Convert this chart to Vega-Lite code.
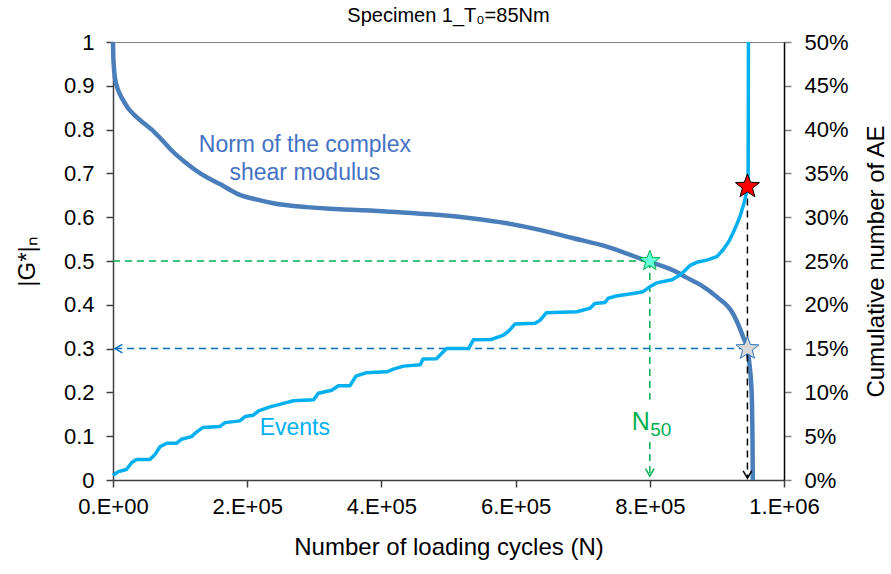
{
  "$schema": "https://vega.github.io/schema/vega-lite/v6.json",
  "width": 671,
  "height": 438,
  "autosize": {"type": "none"},
  "padding": {"left": 113, "top": 42, "right": 107, "bottom": 94},
  "background": "white",
  "title": {
    "text": "Specimen 1_T₀=85Nm",
    "font": "Liberation Sans",
    "fontSize": 20,
    "fontWeight": "normal",
    "color": "#000000",
    "anchor": "middle",
    "offset": 5
  },
  "datasets": {
    "modulus": [
      {"N": 0, "G": 1.0}, {"N": 300, "G": 0.975}, {"N": 1000, "G": 0.95}, {"N": 2000, "G": 0.93},
      {"N": 3500, "G": 0.912}, {"N": 5500, "G": 0.9}, {"N": 9000, "G": 0.885}, {"N": 14000, "G": 0.87},
      {"N": 22000, "G": 0.85}, {"N": 32000, "G": 0.833}, {"N": 44000, "G": 0.817}, {"N": 57700, "G": 0.8},
      {"N": 72000, "G": 0.778}, {"N": 89000, "G": 0.75}, {"N": 108000, "G": 0.725}, {"N": 130000, "G": 0.7},
      {"N": 160000, "G": 0.675}, {"N": 189000, "G": 0.651}, {"N": 215000, "G": 0.64}, {"N": 239000, "G": 0.632},
      {"N": 289000, "G": 0.623}, {"N": 338000, "G": 0.618}, {"N": 388000, "G": 0.615}, {"N": 438000, "G": 0.61},
      {"N": 487000, "G": 0.605}, {"N": 537000, "G": 0.597}, {"N": 587000, "G": 0.586}, {"N": 636000, "G": 0.571},
      {"N": 686000, "G": 0.552}, {"N": 736000, "G": 0.533}, {"N": 785000, "G": 0.506}, {"N": 800000, "G": 0.498},
      {"N": 840000, "G": 0.475}, {"N": 855000, "G": 0.462}, {"N": 875000, "G": 0.446}, {"N": 900000, "G": 0.418},
      {"N": 924000, "G": 0.38}, {"N": 939000, "G": 0.327}, {"N": 945000, "G": 0.3}, {"N": 949000, "G": 0.258},
      {"N": 952000, "G": 0.19}, {"N": 953000, "G": 0.1}, {"N": 953500, "G": 0.0}
    ],
    "events": [
      {"N": 0, "AE": 0.0055}, {"N": 8000, "AE": 0.0095}, {"N": 20000, "AE": 0.012}, {"N": 28000, "AE": 0.02},
      {"N": 35000, "AE": 0.0235}, {"N": 55000, "AE": 0.0235}, {"N": 63000, "AE": 0.0295}, {"N": 70000, "AE": 0.038},
      {"N": 80000, "AE": 0.042}, {"N": 95000, "AE": 0.042}, {"N": 102000, "AE": 0.0465}, {"N": 117000, "AE": 0.0495},
      {"N": 125000, "AE": 0.055}, {"N": 134000, "AE": 0.06}, {"N": 159000, "AE": 0.061}, {"N": 167000, "AE": 0.0655},
      {"N": 189000, "AE": 0.0675}, {"N": 197000, "AE": 0.0725}, {"N": 209000, "AE": 0.074}, {"N": 217000, "AE": 0.079},
      {"N": 234000, "AE": 0.0835}, {"N": 254000, "AE": 0.0875}, {"N": 269000, "AE": 0.0905}, {"N": 299000, "AE": 0.0915},
      {"N": 306000, "AE": 0.099}, {"N": 326000, "AE": 0.1025}, {"N": 336000, "AE": 0.1075}, {"N": 353000, "AE": 0.1075},
      {"N": 362000, "AE": 0.1185}, {"N": 378000, "AE": 0.1225}, {"N": 408000, "AE": 0.1235}, {"N": 418000, "AE": 0.1265},
      {"N": 433000, "AE": 0.13}, {"N": 458000, "AE": 0.1315}, {"N": 462000, "AE": 0.138}, {"N": 482000, "AE": 0.1385},
      {"N": 497000, "AE": 0.15}, {"N": 530000, "AE": 0.15}, {"N": 537000, "AE": 0.16}, {"N": 564000, "AE": 0.1605},
      {"N": 582000, "AE": 0.1655}, {"N": 589000, "AE": 0.1695}, {"N": 599000, "AE": 0.178}, {"N": 629000, "AE": 0.179},
      {"N": 636000, "AE": 0.182}, {"N": 646000, "AE": 0.191}, {"N": 691000, "AE": 0.192}, {"N": 711000, "AE": 0.196},
      {"N": 718000, "AE": 0.2015}, {"N": 733000, "AE": 0.2025}, {"N": 738000, "AE": 0.2075}, {"N": 750000, "AE": 0.21},
      {"N": 775000, "AE": 0.213}, {"N": 790000, "AE": 0.215}, {"N": 800000, "AE": 0.2205}, {"N": 810000, "AE": 0.225},
      {"N": 833000, "AE": 0.2285}, {"N": 845000, "AE": 0.234}, {"N": 850000, "AE": 0.2375}, {"N": 860000, "AE": 0.245},
      {"N": 870000, "AE": 0.2485}, {"N": 885000, "AE": 0.251}, {"N": 900000, "AE": 0.255}, {"N": 909000, "AE": 0.2625},
      {"N": 918000, "AE": 0.2725}, {"N": 924000, "AE": 0.282}, {"N": 930000, "AE": 0.2925}, {"N": 934000, "AE": 0.3},
      {"N": 940000, "AE": 0.315}, {"N": 944000, "AE": 0.3275}, {"N": 946500, "AE": 0.336}, {"N": 947000, "AE": 0.5}
    ]
  },
  "layer": [
    {
      "data": {"name": "modulus"},
      "mark": {"type": "line", "color": "#4A7EBB", "strokeWidth": 4.5, "strokeJoin": "round", "interpolate": "monotone"},
      "encoding": {
        "x": {
          "field": "N", "type": "quantitative",
          "scale": {"domain": [0, 1000000], "nice": false, "zero": false},
          "axis": {
            "title": "Number of loading cycles (N)",
            "values": [0, 200000, 400000, 600000, 800000, 1000000],
            "labelExpr": "datum.value == 0 ? '0.E+00' : (datum.value >= 1000000 ? '1.E+06' : format(datum.value / 100000, 'd') + '.E+05')",
            "labelFlush": false,
            "labelPadding": 9,
            "titlePadding": 18
          }
        },
        "y": {
          "field": "G", "type": "quantitative",
          "scale": {"domain": [0, 1], "nice": false},
          "axis": {
            "title": "|G*|ₙ",
            "orient": "left",
            "values": [0, 0.1, 0.2, 0.3, 0.4, 0.5, 0.6, 0.7, 0.8, 0.9, 1],
            "format": ".1~f",
            "labelFlush": false,
            "labelPadding": 12,
            "titlePadding": 24
          }
        }
      }
    },
    {
      "data": {"values": [{"N": 0, "N2": 800000, "G": 0.5}]},
      "mark": {"type": "rule", "color": "#00B050", "strokeWidth": 1.5, "strokeDash": [7, 5]},
      "encoding": {
        "x": {"field": "N", "type": "quantitative"},
        "x2": {"field": "N2"},
        "y": {"field": "G", "type": "quantitative", "scale": {"domain": [0, 1], "nice": false}, "axis": null}
      }
    },
    {
      "data": {"values": [{"N": 800000, "G": 0.5, "G2": 0.183}, {"N": 800000, "G": 0.087, "G2": 0.012}]},
      "mark": {"type": "rule", "color": "#00B050", "strokeWidth": 1.5, "strokeDash": [7, 5]},
      "encoding": {
        "x": {"field": "N", "type": "quantitative"},
        "y": {"field": "G", "type": "quantitative", "scale": {"domain": [0, 1], "nice": false}, "axis": null},
        "y2": {"field": "G2"}
      }
    },
    {
      "data": {"values": [{"N": 3000, "N2": 945500, "G": 0.3}]},
      "mark": {"type": "rule", "color": "#0070C0", "strokeWidth": 1.5, "strokeDash": [7, 5]},
      "encoding": {
        "x": {"field": "N", "type": "quantitative"},
        "x2": {"field": "N2"},
        "y": {"field": "G", "type": "quantitative", "scale": {"domain": [0, 1], "nice": false}, "axis": null}
      }
    },
    {
      "data": {"values": [{"N": 945500, "G": 0.67, "G2": 0.006}]},
      "mark": {"type": "rule", "color": "#000000", "strokeWidth": 1.5, "strokeDash": [7, 5]},
      "encoding": {
        "x": {"field": "N", "type": "quantitative"},
        "y": {"field": "G", "type": "quantitative", "scale": {"domain": [0, 1], "nice": false}, "axis": null},
        "y2": {"field": "G2"}
      }
    },
    {
      "data": {"values": [{"N": 800000, "G": 0.009}]},
      "mark": {"type": "point", "shape": "M-0.7,-1.2L0,0L0.7,-1.2", "size": 150, "filled": false, "color": "#00B050", "strokeWidth": 1.5, "opacity": 1},
      "encoding": {
        "x": {"field": "N", "type": "quantitative"},
        "y": {"field": "G", "type": "quantitative", "scale": {"domain": [0, 1], "nice": false}, "axis": null}
      }
    },
    {
      "data": {"values": [{"N": 945500, "G": 0.004}]},
      "mark": {"type": "point", "shape": "M-0.7,-1.2L0,0L0.7,-1.2", "size": 150, "filled": false, "color": "#000000", "strokeWidth": 1.5, "opacity": 1},
      "encoding": {
        "x": {"field": "N", "type": "quantitative"},
        "y": {"field": "G", "type": "quantitative", "scale": {"domain": [0, 1], "nice": false}, "axis": null}
      }
    },
    {
      "data": {"values": [{"N": 3000, "G": 0.3}]},
      "mark": {"type": "point", "shape": "M1.2,-0.7L0,0L1.2,0.7", "size": 150, "filled": false, "color": "#0070C0", "strokeWidth": 1.5, "opacity": 1},
      "encoding": {
        "x": {"field": "N", "type": "quantitative"},
        "y": {"field": "G", "type": "quantitative", "scale": {"domain": [0, 1], "nice": false}, "axis": null}
      }
    },
    {
      "data": {"values": [{"N": 800000, "G": 0.5}]},
      "mark": {"type": "point", "shape": "M0,-1L0.247,-0.34L0.951,-0.309L0.399,0.13L0.588,0.809L0,0.42L-0.588,0.809L-0.399,0.13L-0.951,-0.309L-0.247,-0.34Z", "size": 460, "filled": true, "fill": "#66FFD9", "stroke": "#00B050", "strokeWidth": 1, "opacity": 1},
      "encoding": {
        "x": {"field": "N", "type": "quantitative"},
        "y": {"field": "G", "type": "quantitative", "scale": {"domain": [0, 1], "nice": false}, "axis": null}
      }
    },
    {
      "data": {"values": [{"N": 945500, "G": 0.3}]},
      "mark": {"type": "point", "shape": "M0,-1L0.247,-0.34L0.951,-0.309L0.399,0.13L0.588,0.809L0,0.42L-0.588,0.809L-0.399,0.13L-0.951,-0.309L-0.247,-0.34Z", "size": 580, "filled": true, "fill": "#D9D9D9", "stroke": "#2E75B6", "strokeWidth": 1, "opacity": 1},
      "encoding": {
        "x": {"field": "N", "type": "quantitative"},
        "y": {"field": "G", "type": "quantitative", "scale": {"domain": [0, 1], "nice": false}, "axis": null}
      }
    },
    {
      "data": {"values": [{"label": "Norm of the complex", "N": 286000, "G": 0.765}, {"label": "shear modulus", "N": 286000, "G": 0.702}]},
      "mark": {"type": "text", "font": "Liberation Sans", "fontSize": 23, "color": "#4472C4", "align": "center", "baseline": "middle"},
      "encoding": {
        "x": {"field": "N", "type": "quantitative"},
        "y": {"field": "G", "type": "quantitative", "scale": {"domain": [0, 1], "nice": false}, "axis": null},
        "text": {"field": "label"}
      }
    },
    {
      "data": {"values": [{"label": "Events", "N": 271000, "G": 0.119}]},
      "mark": {"type": "text", "font": "Liberation Sans", "fontSize": 23, "color": "#00B0F0", "align": "center", "baseline": "middle"},
      "encoding": {
        "x": {"field": "N", "type": "quantitative"},
        "y": {"field": "G", "type": "quantitative", "scale": {"domain": [0, 1], "nice": false}, "axis": null},
        "text": {"field": "label"}
      }
    },
    {
      "data": {"values": [{"label": "N", "N": 800000, "G": 0.114}]},
      "mark": {"type": "text", "font": "Liberation Sans", "fontSize": 25, "color": "#00B050", "align": "right", "baseline": "alphabetic"},
      "encoding": {
        "x": {"field": "N", "type": "quantitative"},
        "y": {"field": "G", "type": "quantitative", "scale": {"domain": [0, 1], "nice": false}, "axis": null},
        "text": {"field": "label"}
      }
    },
    {
      "data": {"values": [{"label": "50", "N": 800500, "G": 0.101}]},
      "mark": {"type": "text", "font": "Liberation Sans", "fontSize": 19, "color": "#00B050", "align": "left", "baseline": "alphabetic"},
      "encoding": {
        "x": {"field": "N", "type": "quantitative"},
        "y": {"field": "G", "type": "quantitative", "scale": {"domain": [0, 1], "nice": false}, "axis": null},
        "text": {"field": "label"}
      }
    },
    {
      "data": {"name": "events"},
      "mark": {"type": "line", "color": "#00B0F0", "strokeWidth": 3.5, "strokeJoin": "round"},
      "encoding": {
        "x": {"field": "N", "type": "quantitative"},
        "y": {
          "field": "AE", "type": "quantitative",
          "scale": {"domain": [0, 0.5], "nice": false},
          "axis": {
            "title": "Cumulative number of AE",
            "orient": "right",
            "values": [0, 0.05, 0.1, 0.15, 0.2, 0.25, 0.3, 0.35, 0.4, 0.45, 0.5],
            "format": ".0%",
            "labelFlush": false,
            "tickColor": "#808080",
            "domainColor": "#000000",
            "labelPadding": 13,
            "titleAngle": -90,
            "titleX": 92,
            "titleY": 219,
            "titleAlign": "center",
            "titleBaseline": "middle"
          }
        }
      }
    },
    {
      "data": {"values": [{"N": 945500, "AE": 0.335}]},
      "mark": {"type": "point", "shape": "M0,-1L0.247,-0.34L0.951,-0.309L0.399,0.13L0.588,0.809L0,0.42L-0.588,0.809L-0.399,0.13L-0.951,-0.309L-0.247,-0.34Z", "size": 640, "filled": true, "fill": "#FF0000", "stroke": "#000000", "strokeWidth": 1, "opacity": 1},
      "encoding": {
        "x": {"field": "N", "type": "quantitative"},
        "y": {"field": "AE", "type": "quantitative", "scale": {"domain": [0, 0.5], "nice": false}, "axis": null}
      }
    }
  ],
  "resolve": {"scale": {"y": "independent"}},
  "config": {
    "font": "Liberation Sans",
    "view": {"stroke": "#808080", "strokeWidth": 1},
    "axis": {
      "grid": false,
      "domainColor": "#404040",
      "domainWidth": 1.5,
      "tickColor": "#404040",
      "tickWidth": 1.5,
      "tickSize": 7,
      "labelFont": "Liberation Sans",
      "labelFontSize": 22,
      "labelColor": "#000000",
      "titleFont": "Liberation Sans",
      "titleFontSize": 24,
      "titleFontWeight": "normal",
      "titleColor": "#000000"
    }
  }
}
